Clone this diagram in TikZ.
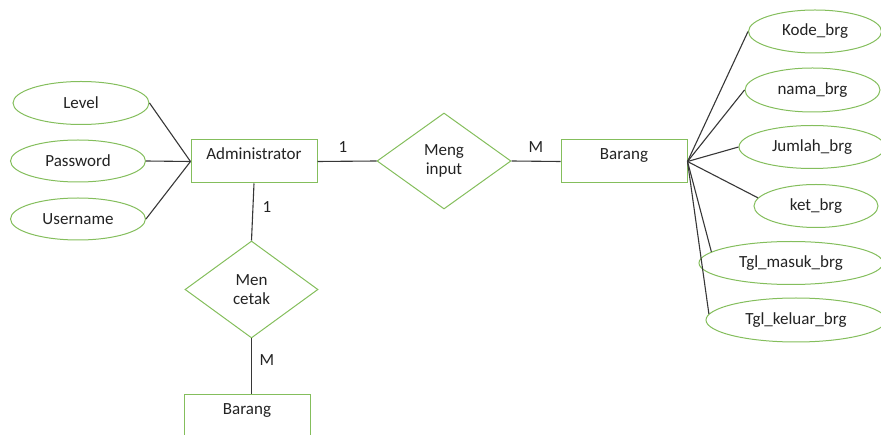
\documentclass[tikz,border=0pt]{standalone}
\usepackage{fontspec}
\setmainfont{Carlito}
\usetikzlibrary{shapes.geometric}
\definecolor{erGreen}{RGB}{132,190,92}
\definecolor{erLine}{RGB}{55,55,55}
\definecolor{erText}{RGB}{35,35,35}
\begin{document}
\begin{tikzpicture}[x=1pt,y=-1pt,
  every node/.style={font=\fontsize{17}{19}\selectfont, text=erText},
  attrib/.style={ellipse, draw=erGreen, line width=1pt, inner sep=0pt, fill=white},
  entity/.style={rectangle, draw=erGreen, line width=1pt, inner sep=0pt,
                 minimum width=126pt, text height=20pt, text depth=23pt, fill=white},
  relation/.style={diamond, draw=erGreen, line width=1pt, inner sep=0pt, align=center},
  link/.style={draw=erLine, line width=1.1pt},
  card/.style={inner sep=0pt}]
\useasboundingbox (0,0) rectangle (881,435);
\clip (0,0) rectangle (881,435);

% entities
\node[entity] (admin) at (254,161.5) {Administrator};
\node[entity] (barang) at (624,161.5) {Barang};
\node[entity] (barang2) at (247,416.5) {Barang};

% relationships
\node[relation, minimum width=134pt, minimum height=96pt] (input) at (444,161) {Meng\\input};
\node[relation, minimum width=133pt, minimum height=97pt] (cetak) at (251.5,289.5) {Men\\cetak};

% attributes of Administrator
\node[attrib, minimum width=136pt, minimum height=43pt] (level) at (81,103) {Level};
\node[attrib, minimum width=135pt, minimum height=42pt] (pass) at (78,161) {Password};
\node[attrib, minimum width=135pt, minimum height=42pt] (user) at (78,219) {Username};

% attributes of Barang
\node[attrib, minimum width=133pt, minimum height=43pt] (kode) at (815,31.5) {Kode\_brg};
\node[attrib, minimum width=135pt, minimum height=44pt] (nama) at (812.5,90) {nama\_brg};
\node[attrib, minimum width=146pt, minimum height=43pt] (jumlah) at (812,147) {Jumlah\_brg};
\node[attrib, minimum width=124pt, minimum height=43pt] (ket) at (816,206) {ket\_brg};
\node[attrib, minimum width=184pt, minimum height=43pt] (masuk) at (791,263) {Tgl\_masuk\_brg};
\node[attrib, minimum width=180pt, minimum height=44pt] (keluar) at (796,320) {Tgl\_keluar\_brg};

% connectors
\draw[link] (level.east) -- (admin.west);
\draw[link] (pass.east) -- (admin.west);
\draw[link] (user.east) -- (admin.west);
\draw[link] (admin.east) -- (input.west);
\draw[link] (input.east) -- (barang.west);
\draw[link] (admin.south) -- (cetak.north);
\draw[link] (cetak.south) -- (barang2.north -| cetak.south);
\draw[link] (barang.east) -- (kode.west);
\draw[link] (barang.east) -- (nama.west);
\draw[link] (barang.east) -- (jumlah.west);
\draw[link] (barang.east) -- (ket.172);
\draw[link] (barang.east) -- (masuk.172);
\draw[link] (barang.east) -- (keluar.176);

% cardinalities
\node[card] (c1) at (343,147) {1};
\node[card] (c2) at (536,147) {M};
\node[card] (c3) at (267,207) {1};
\node[card] (c4) at (267,360) {M};
\end{tikzpicture}
\end{document}
